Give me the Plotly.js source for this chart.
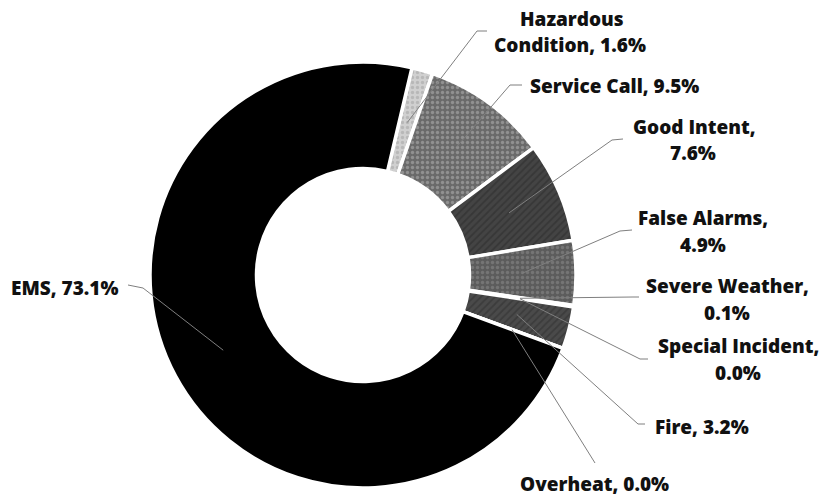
<!DOCTYPE html>
<html>
<head>
<meta charset="utf-8">
<script src="https://cdn.plot.ly/plotly-3.0.1.min.js"></script>
<style>html,body{margin:0;padding:0;background:#fff;}#chart{width:820px;height:497px;}</style>
</head>
<body>
<div id="chart"></div>
<script>
// ---- data ----
const categories = ['Hazardous Condition','Service Call','Good Intent','False Alarms','Severe Weather','Special Incident','Fire','Overheat','EMS'];
const percents = [1.6, 9.5, 7.6, 4.9, 0.1, 0.0, 3.2, 0.0, 73.1];

// ---- styling / layout (not data) ----
const W = 820, H = 497;
const CX = 363, CY = 275, R = 213, HOLE = 0.5, ROT = 13.3;
const colors   = ['#d0d0d0','#6a6a6a','#444444','#5c5c5c','#7a7a7a','#555555','#4a4a4a','#222222','#000000'];
const patShape = ['.', '.', '/', '.', '', '', '/', '', ''];
const patFg    = ['#a0a0a0','#b8b8b8','#2a2a2a','#8e8e8e','#000','#000','#2e2e2e','#000','#000'];
// how each label is wrapped
const breakMode = ['word','none','comma','comma','comma','comma','none','none','none'];
// label line centres (px)
const labelPos = [
  [[572,19],[570,45]],
  [[614,86]],
  [[694,127],[693,153]],
  [[703,218],[703,245]],
  [[727,286],[727,313]],
  [[738,346],[738,373]],
  [[702,427]],
  [[594,484]],
  [[64,288]]
];
// leader elbows (px), from the slice outward
const elbows = [
  [[477,31],[487,31]],
  [[510,85],[522,85]],
  [[612,140],[623,139]],
  [[620,231],[632,230]],
  [[633,297],[639,297]],
  [[640,359],[648,359]],
  [[638,424],[645,424]],
  [[595,463]],
  [[143,288],[128,285]]
];

const px = x => x / W;
const py = y => 1 - y / H;

const total = percents.reduce((a,b)=>a+b,0);
let cum = 0;
const anchors = percents.map(v => {
  const th = (ROT + 360 * (cum + v/2) / total) * Math.PI / 180;
  cum += v;
  const rm = R * (1 + HOLE) / 2 - 1;
  return [CX + rm * Math.sin(th), CY - rm * Math.cos(th)];
});

const shapes = [];
const annotations = [];
categories.forEach((name, i) => {
  const pts = [anchors[i]].concat(elbows[i]);
  let d = 'M ' + px(pts[0][0]) + ' ' + py(pts[0][1]);
  for (let k = 1; k < pts.length; k++) d += ' L ' + px(pts[k][0]) + ' ' + py(pts[k][1]);
  shapes.push({type:'path', xref:'paper', yref:'paper', path:d, line:{color:'#7f7f7f', width:1}, layer:'above'});

  const val = percents[i].toFixed(1) + '%';
  let lines;
  if (breakMode[i] === 'word') {
    const sp = name.indexOf(' ');
    lines = [name.slice(0, sp), name.slice(sp+1) + ', ' + val];
  } else if (breakMode[i] === 'comma') {
    lines = [name + ',', val];
  } else {
    lines = [name + ', ' + val];
  }
  lines.forEach((t, k) => {
    const p = labelPos[i][k];
    annotations.push({
      xref:'paper', yref:'paper', x:px(p[0]), y:py(p[1]),
      xanchor:'center', yanchor:'middle', showarrow:false,
      text: t,
      font:{family:'Open Sans, Lato, sans-serif', size:19, color:'#111111', weight:800}
    });
  });
});

const trace = {
  type:'pie',
  labels: categories,
  values: percents,
  sort:false,
  direction:'clockwise',
  rotation: ROT,
  hole: HOLE,
  textinfo:'none',
  hoverinfo:'skip',
  showlegend:false,
  marker:{
    colors: colors,
    line:{color:'#ffffff', width:3.5},
    pattern:{shape: patShape, fgcolor: patFg, bgcolor: colors, size: 5, solidity: 0.35, fillmode:'overlay'}
  },
  domain:{
    x:[(CX - R)/W, (CX + R)/W],
    y:[(H - CY - R)/H, (H - CY + R)/H]
  }
};

Plotly.newPlot('chart', [trace], {
  width: W, height: H,
  margin:{l:0, r:0, t:0, b:0},
  paper_bgcolor:'#ffffff',
  plot_bgcolor:'#ffffff',
  showlegend:false,
  shapes: shapes,
  annotations: annotations
}, {staticPlot:true, displayModeBar:false});
</script>
</body>
</html>
